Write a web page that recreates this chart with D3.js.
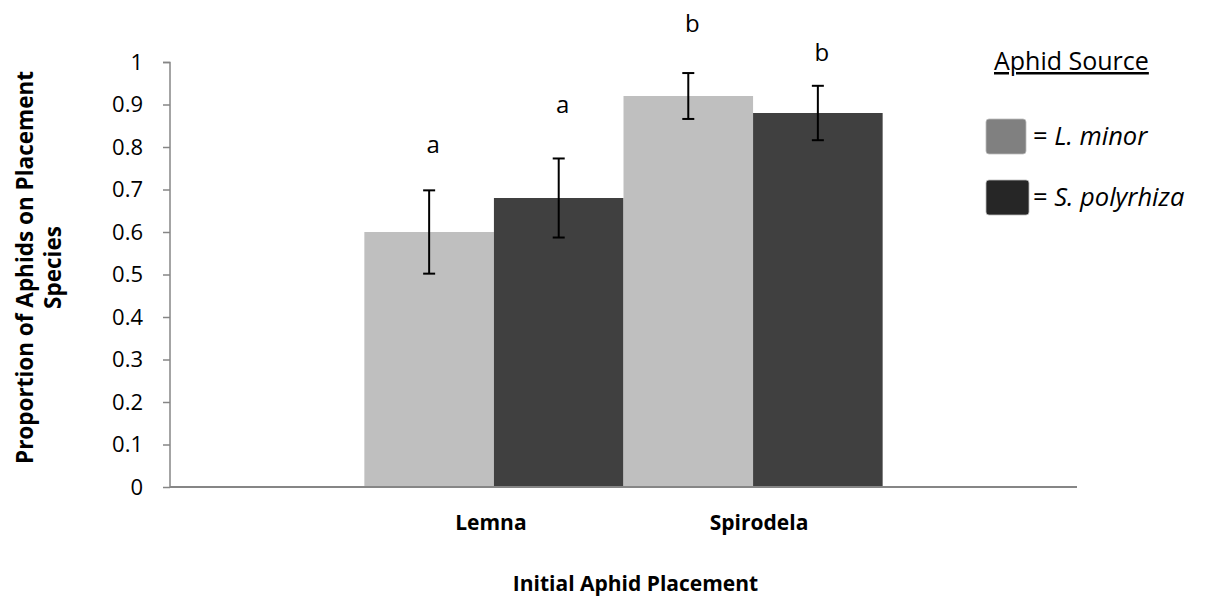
<!DOCTYPE html>
<html>
<head>
<meta charset="utf-8">
<script src="https://cdn.jsdelivr.net/npm/d3@7"></script>
<style>
  html, body { margin: 0; padding: 0; background: #fff; }
  svg { display: block; font-family: "Open Sans", "DejaVu Sans", sans-serif; }
</style>
</head>
<body>
<svg id="chart" width="1207" height="598"></svg>
<script>
// ---- data ----
const categories = ["Lemna", "Spirodela"];
const seriesNames = ["L. minor", "S. polyrhiza"];
const lminorValues = [0.60, 0.92];
const spolyValues = [0.68, 0.88];
const lminorErrors = [0.098, 0.054];
const spolyErrors = [0.093, 0.064];
const lminorLetters = ["a", "b"];
const spolyLetters = ["a", "b"];
const lminorLetterAt = [0.786, 1.071];   // annotation baseline height in data units
const spolyLetterAt = [0.880, 1.002];
const yTicks = [0, 0.1, 0.2, 0.3, 0.4, 0.5, 0.6, 0.7, 0.8, 0.9, 1];

const barColors = ["#bfbfbf", "#404040"];
const legendColors = ["#808080", "#262626"];

// ---- layout ----
const svg = d3.select("#chart");
const margin = { left: 170, top: 62, right: 130, bottom: 111 };
const W = 1207 - margin.left - margin.right;
const H = 598 - margin.top - margin.bottom;
const g = svg.append("g").attr("transform", `translate(${margin.left},${margin.top})`);

const y = d3.scaleLinear().domain([0, 1]).range([H, 0]);
const x0 = d3.scaleBand().domain(categories).range([0, W]).paddingInner(0).paddingOuter(0.75);
const x1 = d3.scaleBand().domain([0, 1]).range([0, x0.bandwidth()]);

const rows = [];
categories.forEach((c, i) => {
  rows.push({ cat: c, s: 0, v: lminorValues[i], e: lminorErrors[i], l: lminorLetters[i], la: lminorLetterAt[i] });
  rows.push({ cat: c, s: 1, v: spolyValues[i], e: spolyErrors[i], l: spolyLetters[i], la: spolyLetterAt[i] });
});

// bars
g.selectAll("rect.bar").data(rows).enter().append("rect")
  .attr("class", "bar")
  .attr("x", d => x0(d.cat) + x1(d.s))
  .attr("width", x1.bandwidth())
  .attr("y", d => y(d.v))
  .attr("height", d => y(0) - y(d.v))
  .attr("fill", d => barColors[d.s]);

// error bars
const cx = d => x0(d.cat) + x1(d.s) + x1.bandwidth() / 2;
const eb = g.selectAll("g.err").data(rows).enter().append("g").attr("class", "err")
  .attr("stroke", "#000").attr("stroke-width", 2);
eb.append("line").attr("x1", cx).attr("x2", cx).attr("y1", d => y(d.v + d.e)).attr("y2", d => y(d.v - d.e));
eb.append("line").attr("x1", d => cx(d) - 6).attr("x2", d => cx(d) + 6).attr("y1", d => y(d.v + d.e)).attr("y2", d => y(d.v + d.e));
eb.append("line").attr("x1", d => cx(d) - 6).attr("x2", d => cx(d) + 6).attr("y1", d => y(d.v - d.e)).attr("y2", d => y(d.v - d.e));

// letters
g.selectAll("text.letter").data(rows).enter().append("text")
  .attr("class", "letter")
  .attr("x", d => cx(d) + 4)
  .attr("y", d => y(d.la))
  .attr("text-anchor", "middle")
  .attr("font-size", 24)
  .attr("fill", "#000")
  .text(d => d.l);

// y axis
const yAxis = d3.axisLeft(y).tickValues(yTicks).tickSize(7).tickPadding(20)
  .tickFormat(d => d === 0 ? "0" : d === 1 ? "1" : d3.format(".1f")(d));
const ya = g.append("g").call(yAxis);
ya.select(".domain").attr("stroke", "#868686").attr("stroke-width", 1.5).attr("d", `M-7,0.5H0V${H}`);
ya.selectAll(".tick line").attr("stroke", "#868686").attr("stroke-width", 1.5);
ya.selectAll(".tick text").attr("font-size", 22).attr("fill", "#000").attr("font-family", "Open Sans");

// x axis line
g.append("line").attr("x1", 0).attr("x2", W).attr("y1", H).attr("y2", H)
  .attr("stroke", "#868686").attr("stroke-width", 2);

// category labels
g.selectAll("text.cat").data(categories).enter().append("text")
  .attr("class", "cat")
  .attr("x", (d, i) => x0(d) + x0.bandwidth() / 2 + (i === 0 ? -3 : 6))
  .attr("y", H + 43)
  .attr("text-anchor", "middle")
  .attr("font-size", 21)
  .attr("font-weight", "bold")
  .text(d => d);

// axis titles
svg.append("text")
  .attr("x", margin.left + W / 2 + 12)
  .attr("y", 591)
  .attr("text-anchor", "middle")
  .attr("font-size", 21)
  .attr("font-weight", "bold")
  .text("Initial Aphid Placement");

const yt = svg.append("text")
  .attr("transform", `translate(33, ${margin.top + H / 2 - 7}) rotate(-90)`)
  .attr("text-anchor", "middle")
  .attr("font-size", 22.5)
  .attr("font-weight", "bold");
yt.append("tspan").attr("x", 0).attr("dy", 0).text("Proportion of Aphids on Placement");
yt.append("tspan").attr("x", 0).attr("dy", 28).text("Species");

// legend
const lg = svg.append("g");
lg.append("text")
  .attr("x", 994).attr("y", 70)
  .attr("font-size", 25)
  .attr("text-decoration", "underline")
  .text("Aphid Source");
const legRows = seriesNames.map((n, i) => ({ n, i }));
const lgi = lg.selectAll("g.li").data(legRows).enter().append("g")
  .attr("transform", d => `translate(986, ${119 + d.i * 61})`);
lgi.append("rect").attr("width", d => 40 + d.i * 3).attr("height", 35).attr("rx", 3)
  .attr("fill", d => legendColors[d.i]).attr("stroke", "#bbb").attr("stroke-width", 0.8);
lgi.append("text").attr("x", 47).attr("y", 26)
  .attr("font-size", 25.5)
  .html(d => `= <tspan font-style="italic">${d.n}</tspan>`);
</script>
</body>
</html>
